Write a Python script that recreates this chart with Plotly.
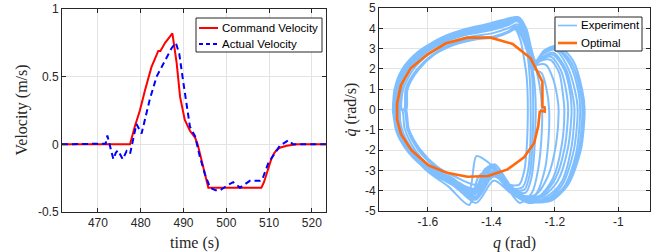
import plotly.graph_objects as go

# ---------------- Left panel data ----------------
time_cmd = [461.6, 477.5, 478.6, 479.8, 481.0, 482.5, 484.1, 484.6, 485.7, 487.4,
            488.4, 489.2, 490.3, 491.5, 492.7, 493.3, 495.8, 508.2, 508.8, 509.4,
            510.0, 510.6, 511.2, 511.7, 512.5, 514.1, 516.5, 523.3]
vel_cmd = [0, 0, 0.13, 0.25, 0.40, 0.57, 0.69, 0.69, 0.75, 0.82,
           0.60, 0.35, 0.18, 0.10, 0.05, 0.0, -0.32, -0.32, -0.28, -0.22,
           -0.15, -0.10, -0.065, -0.045, -0.025, -0.01, 0, 0]

time_act = [461.6, 471.3, 471.8, 472.2, 472.7, 473.6, 474.2, 474.7, 475.8, 476.7,
            477.5, 478.3, 479.0, 480.2, 481.0, 482.1, 483.7, 485.7, 487.2, 488.2,
            489.0, 489.9, 490.7, 491.5, 492.7, 493.8, 495.0, 496.2, 497.5, 498.5,
            500.4, 501.6, 503.2, 505.5, 507.9, 508.4, 509.8, 511.4, 512.5, 514.5,
            515.6, 523.3]
vel_act = [0, 0, 0.005, 0.065, 0.0, -0.11, -0.06, -0.045, -0.11, -0.05,
           -0.07, 0.035, 0.15, 0.08, 0.18, 0.33, 0.50, 0.62, 0.71, 0.75,
           0.67, 0.47, 0.28, 0.13, 0.06, -0.09, -0.22, -0.32, -0.34, -0.34,
           -0.30, -0.28, -0.32, -0.27, -0.27, -0.26, -0.14, -0.06, -0.01, 0.03,
           0, 0]

time_ticks = [470, 480, 490, 500, 510, 520]
vel_ticks = [-0.5, 0, 0.5, 1]
vel_ticktext = ["-0.5", "0", "0.5", "1"]

# ---------------- Right panel data ----------------
exp_a1_q = [-1.710, -1.705, -1.680, -1.630, -1.560, -1.485, -1.415, -1.355, -1.315, -1.290, -1.274, -1.260, -1.234, -1.190, -1.142, -1.114, -1.106, -1.118, -1.158, -1.212, -1.272, -1.332, -1.392, -1.452, -1.522, -1.600, -1.658, -1.695, -1.710]
exp_a1_qd = [0.00, 1.00, 2.00, 2.85, 3.50, 3.95, 4.20, 4.45, 4.55, 4.00, 3.00, 2.40, 2.90, 3.15, 2.40, 1.00, 0.00, -2.00, -3.70, -4.50, -4.50, -4.00, -3.30, -4.30, -3.70, -3.00, -2.00, -1.00, 0.00]

exp_a2_q = [-1.695, -1.690, -1.660, -1.610, -1.545, -1.475, -1.405, -1.350, -1.318, -1.296, -1.280, -1.266, -1.240, -1.196, -1.152, -1.126, -1.120, -1.132, -1.170, -1.220, -1.280, -1.338, -1.396, -1.458, -1.528, -1.604, -1.650, -1.684, -1.695]
exp_a2_qd = [0.00, 1.00, 2.00, 2.80, 3.35, 3.70, 3.90, 4.15, 4.35, 3.85, 2.80, 2.10, 2.70, 3.00, 2.20, 0.90, 0.00, -2.10, -3.80, -4.40, -4.40, -3.80, -2.90, -4.10, -3.40, -2.85, -2.05, -1.00, 0.00]

exp_a3_q = [-1.705, -1.700, -1.676, -1.626, -1.556, -1.482, -1.412, -1.352, -1.312, -1.292, -1.280, -1.268, -1.246, -1.205, -1.165, -1.145, -1.138, -1.148, -1.180, -1.226, -1.282, -1.340, -1.392, -1.448, -1.515, -1.592, -1.662, -1.700, -1.705]
exp_a3_qd = [0.00, 1.00, 1.95, 2.85, 3.55, 3.95, 4.15, 4.40, 4.50, 3.80, 2.70, 2.00, 2.50, 2.80, 2.00, 0.80, 0.00, -1.90, -3.60, -4.30, -4.60, -4.10, -3.50, -4.60, -3.80, -3.10, -2.10, -1.05, 0.00]

exp_a4_q = [-1.670, -1.665, -1.630, -1.580, -1.515, -1.450, -1.390, -1.345, -1.320, -1.300, -1.284, -1.268, -1.244, -1.212, -1.180, -1.163, -1.158, -1.168, -1.198, -1.240, -1.290, -1.342, -1.390, -1.445, -1.515, -1.572, -1.625, -1.660, -1.670]
exp_a4_qd = [0.00, 1.00, 1.95, 2.70, 3.20, 3.45, 3.55, 3.80, 4.05, 3.60, 2.90, 2.10, 2.45, 2.60, 1.90, 0.80, 0.00, -1.80, -3.40, -4.20, -4.30, -3.70, -2.70, -3.70, -3.30, -2.80, -1.95, -0.95, 0.00]

exp_a5_q = [-1.690, -1.686, -1.656, -1.606, -1.542, -1.472, -1.402, -1.348, -1.316, -1.296, -1.284, -1.274, -1.254, -1.228, -1.205, -1.192, -1.188, -1.196, -1.222, -1.260, -1.305, -1.348, -1.395, -1.450, -1.530, -1.608, -1.656, -1.686, -1.690]
exp_a5_qd = [0.00, 1.05, 2.05, 2.85, 3.40, 3.75, 3.95, 4.20, 4.40, 3.95, 3.00, 2.00, 2.20, 2.20, 1.50, 0.60, 0.00, -1.70, -3.30, -4.20, -4.40, -3.90, -3.20, -4.40, -3.60, -2.95, -2.00, -0.95, 0.00]

exp_a6_q = [-1.675, -1.670, -1.636, -1.586, -1.520, -1.455, -1.393, -1.347, -1.322, -1.300, -1.283, -1.266, -1.240, -1.200, -1.160, -1.136, -1.128, -1.140, -1.176, -1.224, -1.276, -1.336, -1.392, -1.452, -1.520, -1.575, -1.628, -1.664, -1.675]
exp_a6_qd = [0.00, 1.00, 1.95, 2.70, 3.25, 3.50, 3.60, 3.85, 4.10, 3.70, 2.90, 2.20, 2.70, 2.95, 2.10, 0.90, 0.00, -2.00, -3.70, -4.40, -4.60, -4.10, -3.00, -3.90, -3.50, -2.85, -2.00, -1.00, 0.00]

exp_b1_q = [-1.705, -1.700, -1.676, -1.626, -1.558, -1.484, -1.414, -1.354, -1.316, -1.298, -1.288, -1.281, -1.277, -1.276, -1.276, -1.278, -1.284, -1.300, -1.330, -1.370, -1.410, -1.455, -1.525, -1.600, -1.656, -1.694, -1.705]
exp_b1_qd = [0.00, 1.00, 2.00, 2.85, 3.50, 3.90, 4.15, 4.40, 4.50, 3.90, 3.00, 2.00, 1.00, 0.00, -1.00, -2.00, -3.00, -3.80, -3.90, -3.10, -2.80, -4.10, -3.60, -2.95, -2.00, -1.00, 0.00]

exp_b2_q = [-1.688, -1.684, -1.655, -1.606, -1.542, -1.472, -1.402, -1.348, -1.318, -1.298, -1.282, -1.268, -1.262, -1.260, -1.262, -1.266, -1.274, -1.292, -1.326, -1.368, -1.410, -1.447, -1.470, -1.520, -1.596, -1.650, -1.682, -1.688]
exp_b2_qd = [0.00, 1.00, 2.00, 2.80, 3.35, 3.70, 3.90, 4.15, 4.35, 3.85, 2.80, 1.80, 0.90, 0.00, -1.20, -2.40, -3.40, -4.10, -4.00, -3.30, -2.60, -2.30, -4.00, -3.40, -2.85, -1.95, -0.95, 0.00]

exp_c1_q = [-1.672, -1.668, -1.634, -1.584, -1.518, -1.452, -1.392, -1.346, -1.322, -1.302, -1.286, -1.266, -1.242, -1.226, -1.218, -1.220, -1.232, -1.262, -1.310, -1.360, -1.400, -1.455, -1.525, -1.578, -1.630, -1.664, -1.672]
exp_c1_qd = [0.00, 1.00, 1.95, 2.70, 3.20, 3.45, 3.55, 3.80, 4.00, 3.50, 2.80, 2.00, 1.80, 1.00, 0.00, -1.50, -3.00, -4.20, -4.20, -3.40, -2.70, -4.00, -3.50, -2.85, -2.00, -1.00, 0.00]

exp_c2_q = [-1.692, -1.688, -1.658, -1.608, -1.544, -1.474, -1.404, -1.349, -1.317, -1.294, -1.278, -1.262, -1.248, -1.240, -1.242, -1.252, -1.272, -1.310, -1.352, -1.392, -1.440, -1.470, -1.535, -1.605, -1.653, -1.686, -1.692]
exp_c2_qd = [0.00, 1.05, 2.05, 2.85, 3.40, 3.80, 4.00, 4.25, 4.45, 4.00, 3.20, 2.20, 1.20, 0.00, -1.40, -2.90, -4.10, -4.60, -3.80, -2.90, -3.30, -4.70, -3.80, -3.00, -2.00, -1.00, 0.00]

exp_d1_q = [-1.700, -1.696, -1.670, -1.620, -1.552, -1.480, -1.410, -1.352, -1.316, -1.293, -1.277, -1.263, -1.237, -1.193, -1.147, -1.120, -1.113, -1.125, -1.164, -1.216, -1.276, -1.335, -1.394, -1.455, -1.525, -1.602, -1.654, -1.690, -1.700]
exp_d1_qd = [0.00, 1.00, 2.00, 2.85, 3.45, 3.85, 4.05, 4.30, 4.45, 3.95, 2.90, 2.25, 2.80, 3.05, 2.30, 0.95, 0.00, -2.05, -3.75, -4.45, -4.50, -3.90, -3.10, -4.20, -3.55, -2.90, -2.00, -1.00, 0.00]

exp_d2_q = [-1.682, -1.678, -1.645, -1.595, -1.530, -1.462, -1.398, -1.347, -1.319, -1.298, -1.283, -1.268, -1.244, -1.206, -1.170, -1.152, -1.147, -1.158, -1.190, -1.234, -1.286, -1.340, -1.391, -1.448, -1.518, -1.590, -1.640, -1.673, -1.682]
exp_d2_qd = [0.00, 1.00, 2.00, 2.75, 3.30, 3.60, 3.75, 4.00, 4.20, 3.75, 2.90, 2.15, 2.55, 2.70, 1.95, 0.85, 0.00, -1.85, -3.50, -4.25, -4.45, -3.90, -3.10, -4.00, -3.45, -2.85, -2.00, -0.95, 0.00]

exp_d3_q = [-1.668, -1.664, -1.630, -1.580, -1.515, -1.450, -1.390, -1.345, -1.325, -1.308, -1.298, -1.290, -1.286, -1.285, -1.286, -1.289, -1.296, -1.312, -1.342, -1.380, -1.418, -1.460, -1.522, -1.575, -1.626, -1.660, -1.668]
exp_d3_qd = [0.00, 1.00, 1.95, 2.70, 3.20, 3.45, 3.55, 3.80, 3.95, 3.40, 2.60, 1.80, 0.90, 0.00, -1.00, -2.00, -3.00, -3.70, -3.70, -3.00, -2.90, -4.20, -3.55, -2.85, -2.00, -1.00, 0.00]

exp_d4_q = [-1.708, -1.703, -1.678, -1.628, -1.558, -1.484, -1.414, -1.354, -1.314, -1.292, -1.278, -1.266, -1.244, -1.214, -1.186, -1.174, -1.170, -1.178, -1.206, -1.248, -1.298, -1.345, -1.392, -1.450, -1.525, -1.602, -1.660, -1.698, -1.708]
exp_d4_qd = [0.00, 1.00, 2.00, 2.85, 3.50, 3.95, 4.20, 4.45, 4.55, 4.05, 3.10, 2.20, 2.40, 2.45, 1.80, 0.70, 0.00, -1.75, -3.40, -4.25, -4.45, -3.95, -3.25, -4.45, -3.70, -3.00, -2.05, -1.00, 0.00]

exp_d5_q = [-1.698, -1.694, -1.665, -1.615, -1.548, -1.477, -1.407, -1.351, -1.317, -1.294, -1.278, -1.264, -1.238, -1.194, -1.148, -1.118, -1.110, -1.122, -1.162, -1.214, -1.274, -1.334, -1.394, -1.455, -1.525, -1.603, -1.654, -1.688, -1.698]
exp_d5_qd = [0.00, 1.00, 2.00, 2.80, 3.40, 3.75, 3.95, 4.20, 4.40, 3.90, 2.85, 2.15, 2.75, 3.05, 2.30, 0.95, 0.00, -2.05, -3.75, -4.50, -4.55, -4.00, -3.20, -4.35, -3.65, -2.95, -2.00, -1.00, 0.00]

exp_d6_q = [-1.702, -1.698, -1.672, -1.622, -1.554, -1.481, -1.411, -1.353, -1.316, -1.295, -1.282, -1.273, -1.269, -1.268, -1.269, -1.272, -1.279, -1.296, -1.328, -1.369, -1.410, -1.450, -1.520, -1.598, -1.655, -1.692, -1.702]
exp_d6_qd = [0.00, 1.00, 2.00, 2.85, 3.45, 3.85, 4.10, 4.35, 4.45, 3.90, 2.90, 1.90, 0.95, 0.00, -1.10, -2.20, -3.20, -3.95, -3.95, -3.20, -2.85, -3.90, -3.50, -2.95, -2.00, -1.00, 0.00]

opt_q = [-1.247, -1.252, -1.265, -1.297, -1.349, -1.410, -1.475, -1.540, -1.598, -1.652, -1.685, -1.697, -1.697, -1.685, -1.654, -1.601, -1.543, -1.475, -1.402, -1.333, -1.276, -1.239, -1.239, -1.232, -1.232, -1.247]
opt_qd = [-0.05, -0.80, -1.65, -2.35, -2.95, -3.28, -3.31, -3.12, -2.75, -2.00, -1.20, -0.50, 0.30, 1.20, 2.03, 2.72, 3.26, 3.54, 3.54, 3.23, 2.52, 1.37, 0.14, 0.10, -0.10, -0.05]

q_ticks = [-1.6, -1.4, -1.2, -1]
q_ticktext = ["-1.6", "-1.4", "-1.2", "-1"]
qd_ticks = [-5, -4, -3, -2, -1, 0, 1, 2, 3, 4, 5]
qd_ticktext = ["-5", "-4", "-3", "-2", "-1", "0", "1", "2", "3", "4", "5"]

exp_loops = [(exp_a1_q, exp_a1_qd), (exp_b1_q, exp_b1_qd), (exp_d1_q, exp_d1_qd),
             (exp_a2_q, exp_a2_qd), (exp_c1_q, exp_c1_qd), (exp_d2_q, exp_d2_qd),
             (exp_a3_q, exp_a3_qd), (exp_b2_q, exp_b2_qd), (exp_d3_q, exp_d3_qd),
             (exp_a4_q, exp_a4_qd), (exp_c2_q, exp_c2_qd), (exp_d4_q, exp_d4_qd),
             (exp_a5_q, exp_a5_qd), (exp_d5_q, exp_d5_qd), (exp_a6_q, exp_a6_qd),
             (exp_d6_q, exp_d6_qd)]
exp_q_all, exp_qd_all = [], []
for lq, lqd in exp_loops:
    exp_q_all += lq
    exp_qd_all += lqd

# ---------------- Styling ----------------
W, H = 662, 252
RED = "#ff0000"
BLUE = "#0000ff"
LIGHT = "#80bfff"
ORANGE = "#ff6a0d"
AX = "#262626"
GRID = "#e3e3e3"
TICKFONT = dict(family="Liberation Sans, Arial, sans-serif", size=12, color=AX)
TITLEFONT = dict(family="Liberation Serif, Times New Roman, serif", size=16, color=AX)
LEGFONT = dict(family="Liberation Sans, Arial, sans-serif", size=11.5, color="#000000")

fig = go.Figure()
fig.add_trace(go.Scatter(x=time_cmd, y=vel_cmd, mode="lines", name="Command Velocity",
                         line=dict(color=RED, width=2), xaxis="x", yaxis="y", showlegend=False))
fig.add_trace(go.Scatter(x=time_act, y=vel_act, mode="lines", name="Actual Velocity",
                         line=dict(color=BLUE, width=2, dash="6px,4px"), xaxis="x", yaxis="y", showlegend=False))
fig.add_trace(go.Scatter(x=exp_q_all, y=exp_qd_all, mode="lines", name="Experiment",
                         line=dict(color=LIGHT, width=2.0, shape="spline", smoothing=0.8),
                         xaxis="x2", yaxis="y2", showlegend=False))
fig.add_trace(go.Scatter(x=opt_q, y=opt_qd, mode="lines", name="Optimal",
                         line=dict(color=ORANGE, width=2.6), xaxis="x2", yaxis="y2", showlegend=False))

def px(x):
    return x / W

def py(y):
    return 1 - y / H

axis_common = dict(showline=True, linecolor=AX, linewidth=1, mirror="ticks", ticks="inside",
                   ticklen=4, tickcolor=AX, tickwidth=1, showgrid=True, gridcolor=GRID,
                   gridwidth=1, zeroline=False, tickfont=TICKFONT, automargin=False)

fig.update_layout(
    width=W, height=H, margin=dict(l=0, r=0, t=0, b=0),
    paper_bgcolor="white", plot_bgcolor="white", showlegend=False,
    xaxis=dict(domain=[px(62), px(326)], range=[461.6, 523.3], anchor="y",
               tickvals=time_ticks, ticktext=[str(t) for t in time_ticks], **axis_common),
    yaxis=dict(domain=[py(212), py(9)], range=[-0.5, 1], anchor="x",
               tickvals=vel_ticks, ticktext=vel_ticktext, **axis_common),
    xaxis2=dict(domain=[px(379), px(650)], range=[-1.754, -0.9], anchor="y2",
                tickvals=q_ticks, ticktext=q_ticktext, **axis_common),
    yaxis2=dict(domain=[py(211), py(8)], range=[-5, 5], anchor="x2",
                tickvals=qd_ticks, ticktext=qd_ticktext, **axis_common),
)

shapes = []
annotations = []

# axis titles
annotations.append(dict(text="Velocity (m/s)", x=px(21), y=py(110.5), xref="paper", yref="paper",
                        textangle=-90, showarrow=False, font=TITLEFONT, xanchor="center", yanchor="middle"))
annotations.append(dict(text="time (s)", x=px(194), y=py(243), xref="paper", yref="paper",
                        showarrow=False, font=TITLEFONT, xanchor="center", yanchor="middle"))
annotations.append(dict(text="<i>q̇</i> (rad/s)", x=px(350), y=py(109.5), xref="paper", yref="paper",
                        textangle=-90, showarrow=False, font=TITLEFONT, xanchor="center", yanchor="middle"))
annotations.append(dict(text="<i>q</i> (rad)", x=px(514.5), y=py(243), xref="paper", yref="paper",
                        showarrow=False, font=TITLEFONT, xanchor="center", yanchor="middle"))

# legends drawn manually (box, sample lines, labels)
def legend(box, entries):
    x0, y0, x1, y1 = box
    shapes.append(dict(type="rect", xref="paper", yref="paper", x0=px(x0), x1=px(x1),
                       y0=py(y1), y1=py(y0), line=dict(color=AX, width=1), fillcolor="white", layer="above"))
    for (lx0, lx1, ly, color, width, dash, label) in entries:
        shapes.append(dict(type="line", xref="paper", yref="paper", x0=px(lx0), x1=px(lx1),
                           y0=py(ly), y1=py(ly), line=dict(color=color, width=width, dash=dash), layer="above"))
        annotations.append(dict(text=label, x=px(lx1 + 2), y=py(ly), xref="paper", yref="paper",
                                showarrow=False, font=LEGFONT, xanchor="left", yanchor="middle"))

legend((196, 18, 322, 52), [
    (199, 218, 28, RED, 2, "solid", "Command Velocity"),
    (199, 218, 44, BLUE, 2, "4px,3px", "Actual Velocity"),
])
legend((555, 17, 642, 51), [
    (558, 577, 25.5, LIGHT, 1.6, "solid", "Experiment"),
    (558, 577, 43, ORANGE, 2.6, "solid", "Optimal"),
])

fig.update_layout(shapes=shapes, annotations=annotations)
# the page body has a default 8px margin; remove it so the figure sits at the window's top-left corner
fig.write_html("out.html", config={"displayModeBar": False},
               post_script="document.body.style.margin='0px';")
